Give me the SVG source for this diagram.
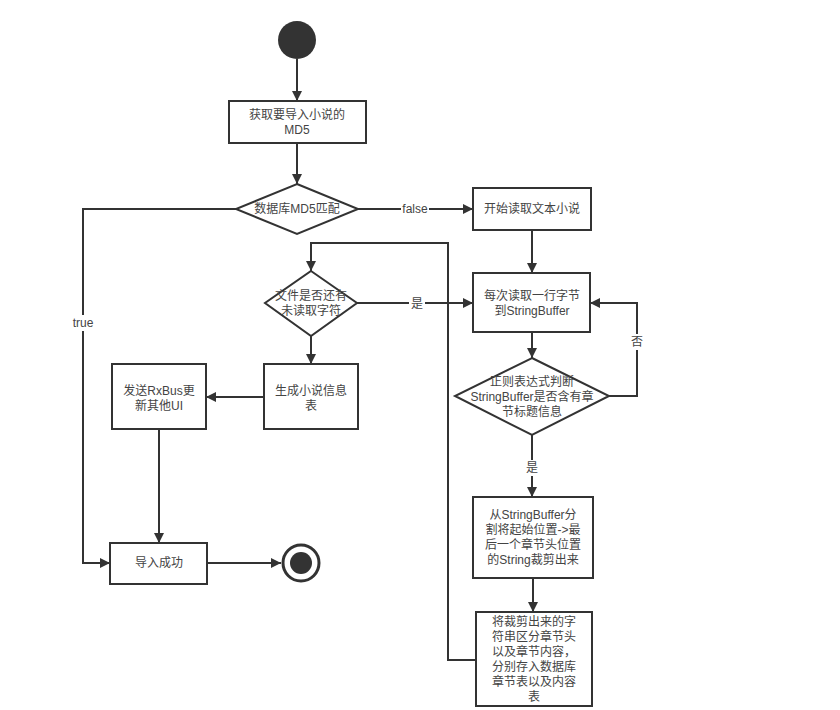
<svg xmlns="http://www.w3.org/2000/svg" width="840" height="710" viewBox="0 0 840 710">
<defs>
<marker id="ah" viewBox="0 0 10 10" refX="10" refY="5" markerWidth="10" markerHeight="10" markerUnits="userSpaceOnUse" orient="auto">
<path d="M0,0 L10,5 L0,10 z" fill="#333"/>
</marker>
<style>
.n{fill:#fff;stroke:#333;stroke-width:2}
.c{fill:none;stroke:#333;stroke-width:2;marker-end:url(#ah)}
text{font-family:"Liberation Sans","Noto Sans CJK SC",sans-serif;font-size:12px;fill:#444;text-anchor:middle;dominant-baseline:central}
.lb{fill:#fff}
</style>
</defs>
<rect width="840" height="710" fill="#fff"/>
<g id="connectors">
<path class="c" d="M297,59 V101"/>
<path class="c" d="M297,143 V184"/>
<path class="c" d="M358,209 H473"/>
<path class="c" d="M236,209 H83 V563 H110"/>
<path class="c" d="M532,230 V273"/>
<path class="c" d="M357,303 H473"/>
<path class="c" d="M532,332 V358"/>
<path class="c" d="M609,396 H637 V303 H590"/>
<path class="c" d="M532,435 V497"/>
<path class="c" d="M533,578 V612"/>
<path class="c" d="M476,660 H448 V243 H311 V271"/>
<path class="c" d="M311,336 V364"/>
<path class="c" d="M264,397 H206"/>
<path class="c" d="M159,429 V543"/>
<path class="c" d="M207,563 H281"/>
<rect class="lb" x="401" y="201" width="28" height="16"/>
<text x="415" y="209">false</text>
<rect class="lb" x="409" y="296" width="16" height="16"/>
<text x="417" y="304">是</text>
<rect class="lb" x="629" y="334" width="16" height="16"/>
<text x="637" y="342">否</text>
<rect class="lb" x="524" y="460" width="16" height="16"/>
<text x="532" y="468">是</text>
<rect class="lb" x="68" y="315" width="30" height="16"/>
<text x="83" y="323">true</text>
</g>
<g id="start"><circle cx="297" cy="40" r="19" fill="#333"/></g>
<g id="getMD5"><rect class="n" x="229" y="101" width="137" height="42"/><text x="297" y="115">获取要导入小说的</text><text x="297" y="130">MD5</text></g>
<g id="md5match"><polygon class="n" points="297,184 358,209 297,234 236,209"/><text x="297" y="209">数据库MD5匹配</text></g>
<g id="startRead"><rect class="n" x="473" y="188" width="118" height="42"/><text x="532" y="209">开始读取文本小说</text></g>
<g id="readLine"><rect class="n" x="473" y="273" width="117" height="59"/><text x="532" y="296">每次读取一行字节</text><text x="532" y="311">到StringBuffer</text></g>
<g id="hasChars"><polygon class="n" points="311,271 357,303 311,336 265,303"/><text x="311" y="296">文件是否还有</text><text x="311" y="311">未读取字符</text></g>
<g id="regex"><polygon class="n" points="532,358 609,396 532,435 455,396"/><text x="532" y="382">正则表达式判断</text><text x="532" y="397">StringBuffer是否含有章</text><text x="532" y="412">节标题信息</text></g>
<g id="split"><rect class="n" x="473" y="497" width="120" height="81"/><text x="533" y="515">从StringBuffer分</text><text x="533" y="530">割将起始位置-&gt;最</text><text x="533" y="545">后一个章节头位置</text><text x="533" y="560">的String裁剪出来</text></g>
<g id="store"><rect class="n" x="476" y="612" width="116" height="94"/><text x="534" y="622">将裁剪出来的字</text><text x="534" y="637">符串区分章节头</text><text x="534" y="652">以及章节内容，</text><text x="534" y="667">分别存入数据库</text><text x="534" y="682">章节表以及内容</text><text x="534" y="697">表</text></g>
<g id="genInfo"><rect class="n" x="264" y="364" width="94" height="65"/><text x="311" y="391">生成小说信息</text><text x="311" y="406">表</text></g>
<g id="rxbus"><rect class="n" x="112" y="364" width="94" height="65"/><text x="159" y="391">发送RxBus更</text><text x="159" y="406">新其他UI</text></g>
<g id="success"><rect class="n" x="110" y="543" width="97" height="41"/><text x="159" y="563">导入成功</text></g>
<g id="end"><circle cx="301" cy="563" r="18" fill="#fff" stroke="#333" stroke-width="3"/><circle cx="301" cy="563" r="11" fill="#333"/></g>
</svg>
